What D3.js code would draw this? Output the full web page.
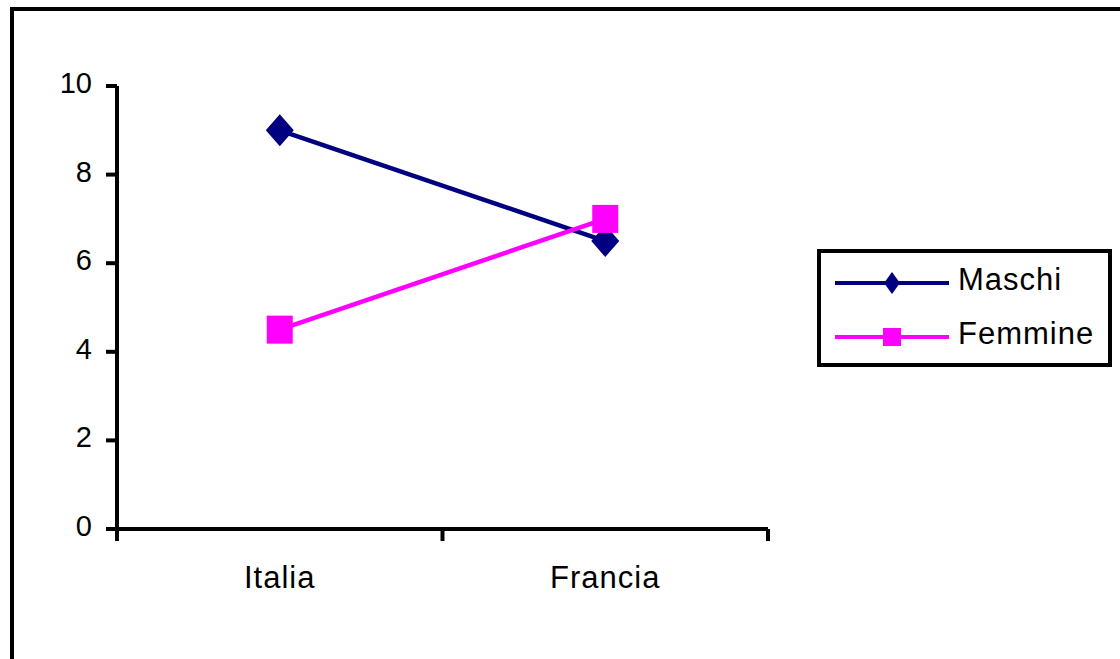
<!DOCTYPE html>
<html>
<head>
<meta charset="utf-8">
<script src="https://cdn.jsdelivr.net/npm/d3@7/dist/d3.min.js"></script>
<style>
  html, body { margin: 0; padding: 0; background: #fff; }
  svg { display: block; }
  text { font-family: "Liberation Sans", Arial, sans-serif; fill: #000; }
</style>
</head>
<body>
<svg id="chart" width="1120" height="659"></svg>
<script>
// Data
const categories = ["Italia", "Francia"];
const seriesNames = ["Maschi", "Femmine"];
const maschi = [9, 6.5];
const femmine = [4.5, 7];
const yTicks = [0, 2, 4, 6, 8, 10];

const svg = d3.select("#chart");
const W = 1120, H = 659;

// Outer frame (runs off the right and bottom edges)
svg.append("rect")
  .attr("x", 12).attr("y", 9)
  .attr("width", W + 20).attr("height", H + 20)
  .attr("fill", "none").attr("stroke", "#000").attr("stroke-width", 4);

// Plot area
const plot = { left: 117, right: 768, top: 86, bottom: 529 };

const x = d3.scaleBand().domain(categories).range([plot.left, plot.right]);
const y = d3.scaleLinear().domain([0, 10]).range([plot.bottom, plot.top]);

const axisColor = "#000";

// Y axis line + ticks
svg.append("line")
  .attr("x1", plot.left).attr("x2", plot.left)
  .attr("y1", plot.top).attr("y2", plot.bottom + 12)
  .attr("stroke", axisColor).attr("stroke-width", 4);

svg.append("g").selectAll("line").data(yTicks).join("line")
  .attr("x1", plot.left - 11).attr("x2", plot.left)
  .attr("y1", d => y(d)).attr("y2", d => y(d))
  .attr("stroke", axisColor).attr("stroke-width", 4);

svg.append("g").selectAll("text").data(yTicks).join("text")
  .attr("x", 92).attr("y", d => y(d) + 7)
  .attr("text-anchor", "end")
  .attr("font-size", 29)
  .text(d => d);

// X axis line + ticks at band edges
svg.append("line")
  .attr("x1", plot.left - 11).attr("x2", plot.right)
  .attr("y1", plot.bottom).attr("y2", plot.bottom)
  .attr("stroke", axisColor).attr("stroke-width", 4);

const xEdges = categories.map(c => x(c)).concat([plot.right]);
svg.append("g").selectAll("line").data(xEdges).join("line")
  .attr("x1", d => d).attr("x2", d => d)
  .attr("y1", plot.bottom).attr("y2", plot.bottom + 12)
  .attr("stroke", axisColor).attr("stroke-width", 4);

svg.append("g").selectAll("text").data(categories).join("text")
  .attr("x", d => x(d) + x.bandwidth() / 2)
  .attr("y", 588)
  .attr("text-anchor", "middle")
  .attr("font-size", 31)
  .attr("letter-spacing", 1)
  .text(d => d);

// Series
const colors = { Maschi: "#000080", Femmine: "#ff00ff" };
const cx = c => x(c) + x.bandwidth() / 2;

const line = d3.line().x((d, i) => cx(categories[i])).y(d => y(d));

function diamond(w, h) {
  return `M0,${-h} L${w},0 L0,${h} L${-w},0 Z`;
}

// Maschi
svg.append("path").datum(maschi)
  .attr("d", line).attr("fill", "none")
  .attr("stroke", colors.Maschi).attr("stroke-width", 4.5);

// Femmine
svg.append("path").datum(femmine)
  .attr("d", line).attr("fill", "none")
  .attr("stroke", colors.Femmine).attr("stroke-width", 4.5);

svg.append("g").selectAll("path").data(maschi).join("path")
  .attr("transform", (d, i) => `translate(${cx(categories[i])},${y(d)})`)
  .attr("d", diamond(14, 16))
  .attr("fill", colors.Maschi);

svg.append("g").selectAll("rect").data(femmine).join("rect")
  .attr("x", (d, i) => cx(categories[i]) - 13)
  .attr("y", d => y(d) - 14)
  .attr("width", 26).attr("height", 28)
  .attr("fill", colors.Femmine);

// Legend
const lg = svg.append("g");
lg.append("rect")
  .attr("x", 819).attr("y", 251)
  .attr("width", 291).attr("height", 114)
  .attr("fill", "#fff").attr("stroke", "#000").attr("stroke-width", 4);

const legendRows = [
  { name: seriesNames[0], y: 283, marker: "diamond" },
  { name: seriesNames[1], y: 337, marker: "square" }
];
legendRows.forEach(r => {
  lg.append("line")
    .attr("x1", 835).attr("x2", 949)
    .attr("y1", r.y).attr("y2", r.y)
    .attr("stroke", colors[r.name]).attr("stroke-width", 4);
  if (r.marker === "diamond") {
    lg.append("path")
      .attr("transform", `translate(892,${r.y})`)
      .attr("d", diamond(8, 11))
      .attr("fill", colors[r.name]);
  } else {
    lg.append("rect")
      .attr("x", 883).attr("y", r.y - 9)
      .attr("width", 18).attr("height", 18)
      .attr("fill", colors[r.name]);
  }
  lg.append("text")
    .attr("x", 958).attr("y", r.y + 7)
    .attr("font-size", 31)
    .attr("letter-spacing", 1)
    .text(r.name);
});
</script>
</body>
</html>
